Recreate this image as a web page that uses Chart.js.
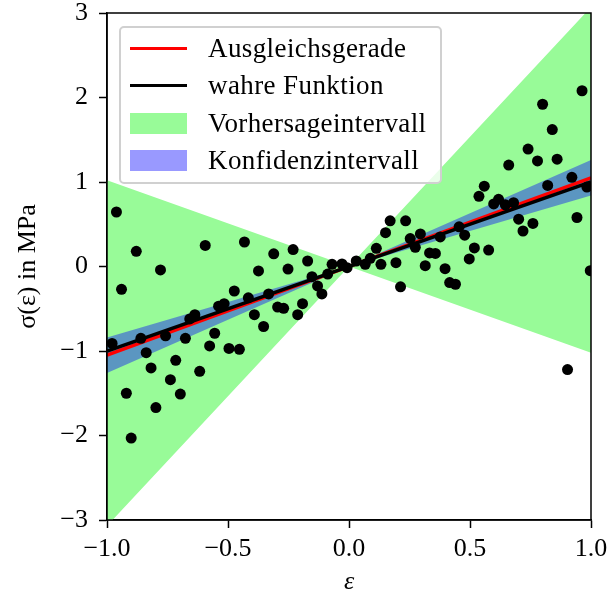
<!DOCTYPE html>
<html>
<head>
<meta charset="utf-8">
<script src="https://cdn.jsdelivr.net/npm/chart.js@4.4.1/dist/chart.umd.min.js"></script>
<style>
  body { margin: 0; background: #fff; }
  #wrap { position: relative; width: 608px; height: 598px; }
  #legend {
    position: absolute; left: 119px; top: 26px; width: 323px; height: 158px;
    box-sizing: border-box; border: 2px solid #d0d0d0; border-radius: 5px;
    background: rgba(255,255,255,0.8);
    font-family: 'Liberation Serif', 'Times New Roman', serif; font-size: 27px; letter-spacing: 0.4px;
  }
  .row { position: absolute; left: 0; height: 38px; display: flex; align-items: center; white-space: nowrap; }
  .handle { width: 57px; margin-left: 9px; margin-right: 21px; display: flex; align-items: center; height: 38px; }
</style>
</head>
<body>
<div id="wrap">
  <canvas id="chart" width="608" height="598"></canvas>
  <div id="legend"></div>
</div>
<script>
// Messpunkte (epsilon, sigma)
const strain = [
  -0.961, -0.940, -0.879, -0.779, -0.594, -0.432, -0.474, -0.416, -0.516, -0.539,
  -0.637, -0.658, -0.391, -0.979, -0.860, -0.758, -0.676, -0.555, -0.576, -0.496,
  -0.453, -0.838, -0.716, -0.818, -0.617, -0.738, -0.920, -0.697, -0.798, -0.900,
  -0.311, -0.231, -0.171, -0.374, -0.252, -0.070, -0.029, -0.008, 0.030, 0.067,
  0.088, 0.113, 0.132, 0.151, 0.170, -0.088, -0.153, -0.130, -0.112, -0.332,
  -0.192, -0.295, -0.270, -0.212, -0.353,
  0.963, 0.800, 0.840, 0.740, 0.779, 0.860, 0.660, 0.921, 0.559, 0.537,
  0.821, 0.983, 0.618, 0.598, 0.680, 0.646, 0.234, 0.942, 0.701, 0.760,
  0.719, 0.455, 0.478, 0.295, 0.253, 0.377, 0.274, 0.518, 0.577, 0.333,
  0.357, 0.497, 0.194, 0.315, 0.397, 0.416, 0.440, 0.213, 0.997, 0.903
];
const stress = [
  0.645, -0.27, 0.18, -0.04, 0.25, 0.29, -0.29, -0.37, -0.44, -0.47,
  -0.57, -0.62, -0.57, -0.91, -0.85, -0.82, -0.85, -0.79, -0.94, -0.97,
  -0.98, -1.02, -1.11, -1.20, -1.24, -1.34, -1.50, -1.51, -1.67, -2.03,
  0.15, 0.20, 0.065, -0.053, -0.03, 0.026, 0.03, -0.014, 0.065, 0.026,
  0.097, 0.215, 0.026, 0.40, 0.54, -0.09, -0.12, -0.23, -0.325, -0.325,
  -0.44, -0.48, -0.495, -0.57, -0.71,
  2.08, 1.92, 1.62, 1.39, 1.25, 1.27, 1.20, 1.055, 0.95, 0.83,
  0.96, 0.94, 0.795, 0.74, 0.755, 0.73, 0.54, 0.58, 0.56, 0.51,
  0.42, 0.47, 0.37, 0.385, 0.33, 0.35, 0.227, 0.22, 0.195, 0.16,
  0.155, 0.09, 0.045, 0.01, -0.026, -0.19, -0.21, -0.24, -0.05, -1.22
];

// Geraden und Intervalle
const lineX = [-1, 1];
const fitY = [-1.05, 1.05];
const trueY = [-1, 1];
const bandX = [-1, 0, 1];
const predUpper = [1.02, 0, 3.07];
const predLower = [-3.07, 0, -1.02];
const confUpper = [-0.84, 0, 1.26];
const confLower = [-1.26, 0, 0.84];

// Achsen
const xTicks = [-1, -0.5, 0, 0.5, 1];
const xTickLabels = ['\u22121.0', '\u22120.5', '0.0', '0.5', '1.0'];
const yTicks = [-3, -2, -1, 0, 1, 2, 3];
const yTickLabels = ['\u22123', '\u22122', '\u22121', '0', '1', '2', '3'];

const legendOrder = ['Ausgleichsgerade', 'wahre Funktion', 'Vorhersageintervall', 'Konfidenzintervall'];

const zip = (xs, ys) => xs.map((x, i) => ({ x: x, y: ys[i] }));
const clear = 'rgba(0,0,0,0)';

Chart.defaults.font.family = "'Liberation Serif', 'Times New Roman', serif";
Chart.defaults.font.size = 26;
Chart.defaults.color = '#000';

const frame = {
  id: 'frame',
  afterDraw(chart) {
    const a = chart.chartArea, ctx = chart.ctx;
    ctx.save();
    ctx.strokeStyle = '#000';
    ctx.lineWidth = 1.5;
    ctx.strokeRect(a.left, a.top, a.right - a.left, a.bottom - a.top);
    ctx.restore();
  }
};

const chart = new Chart(document.getElementById('chart'), {
  type: 'scatter',
  data: {
    datasets: [
      { type: 'line', data: zip(bandX, predUpper), borderColor: clear, borderWidth: 0, pointRadius: 0, fill: false, order: 6 },
      { type: 'line', label: 'Vorhersageintervall', data: zip(bandX, predLower), borderColor: clear, borderWidth: 0, pointRadius: 0,
        backgroundColor: 'rgb(152,251,152)', fill: '-1', order: 5 },
      { type: 'line', data: zip(bandX, confUpper), borderColor: clear, borderWidth: 0, pointRadius: 0, fill: false, order: 4 },
      { type: 'line', label: 'Konfidenzintervall', data: zip(bandX, confLower), borderColor: clear, borderWidth: 0, pointRadius: 0,
        backgroundColor: 'rgba(0,0,255,0.4)', fill: '-1', order: 3 },
      { type: 'line', label: 'Ausgleichsgerade', data: zip(lineX, fitY), borderColor: '#ff0000', borderWidth: 3.5, pointRadius: 0, order: 2 },
      { type: 'line', label: 'wahre Funktion', data: zip(lineX, trueY), borderColor: '#000', borderWidth: 3.5, pointRadius: 0, order: 1 },
      { data: zip(strain, stress), backgroundColor: '#000', borderWidth: 0, pointRadius: 5.5, clip: 0, order: 0 }
    ]
  },
  options: {
    responsive: false,
    animation: false,
    devicePixelRatio: 1,
    layout: { padding: { top: 13, right: 17, left: 0, bottom: 0 } },
    plugins: { legend: { display: false }, tooltip: { enabled: false } },
    scales: {
      x: {
        type: 'linear', min: -1, max: 1,
        afterBuildTicks: s => { s.ticks = xTicks.map(v => ({ value: v })); },
        afterFit: s => { s.height = 78; s.paddingLeft = 0; s.paddingRight = 0; },
        grid: { drawOnChartArea: false, color: '#000', tickLength: 8, tickWidth: 1.5 },
        border: { color: '#000', width: 1.5 },
        ticks: { padding: 6, maxRotation: 0, callback: (v, i) => xTickLabels[i] },
        title: { display: true, text: '\u03b5', font: { style: 'italic', size: 26 }, padding: { top: 0, bottom: 0 } }
      },
      y: {
        type: 'linear', min: -3, max: 3,
        afterBuildTicks: s => { s.ticks = yTicks.map(v => ({ value: v })); },
        afterFit: s => { s.width = 107; s.paddingTop = 0; s.paddingBottom = 0; },
        grid: { drawOnChartArea: false, color: '#000', tickLength: 8, tickWidth: 1.5 },
        border: { color: '#000', width: 1.5 },
        ticks: { padding: 11, callback: (v, i) => yTickLabels[i] },
        title: { display: true, text: '\u03c3(\u03b5) in MPa', padding: { top: 13, bottom: 0 } }
      }
    }
  },
  plugins: [frame]
});

// Legende als HTML aus den Datensaetzen
const legendBox = document.getElementById('legend');
legendOrder.forEach((name, i) => {
  const ds = chart.data.datasets.find(d => d.label === name);
  const row = document.createElement('div');
  row.className = 'row';
  row.style.top = (1 + i * 37.5) + 'px';
  const handle = document.createElement('div');
  handle.className = 'handle';
  const mark = document.createElement('div');
  mark.style.width = '57px';
  if (ds.fill) {
    mark.style.height = '21px';
    mark.style.background = ds.backgroundColor;
  } else {
    mark.style.height = '3px';
    mark.style.background = ds.borderColor;
  }
  handle.appendChild(mark);
  const label = document.createElement('span');
  label.textContent = name;
  row.appendChild(handle);
  row.appendChild(label);
  legendBox.appendChild(row);
});
</script>
</body>
</html>
